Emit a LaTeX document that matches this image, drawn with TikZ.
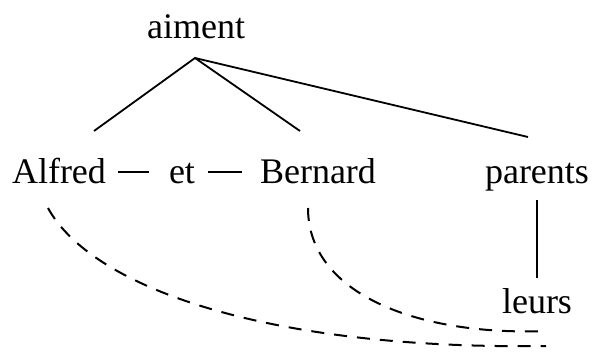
\documentclass[tikz,border=0pt]{standalone}
\usepackage{fontspec}
\setmainfont{Liberation Serif}
\begin{document}
\begin{tikzpicture}[x=1pt,y=-1pt,
  word/.style={inner sep=0pt,anchor=base,font=\fontsize{36}{40}\selectfont},
  edge/.style={line width=1.8pt},
  link/.style={line width=2pt,dash pattern=on 13pt off 10pt}]
\useasboundingbox (0,0) rectangle (592,356);
\node[word] (aiment) at (196,38) {aiment};
\node[word] (Alfred) at (59,183) {Alfred};
\node[word] (et) at (182,183) {et};
\node[word] (Bernard) at (318,183) {Bernard};
\node[word] (parents) at (537,183) {parents};
\node[word] (leurs) at (537,313) {leurs};
\coordinate (top) at (195,58);
\coordinate (a1) at (94,131);
\coordinate (b1) at (300,131);
\coordinate (p1) at (528,137);
\draw[edge] (a1) -- (top) -- (b1);
\draw[edge] (top) -- (p1);
\draw[edge] ([xshift=12pt,yshift=11pt]Alfred.base east) -- ([xshift=-20pt,yshift=11pt]et.base west);
\draw[edge] ([xshift=13pt,yshift=11pt]et.base east) -- ([xshift=-18pt,yshift=11pt]Bernard.base west);
\draw[edge] ([yshift=-17pt]parents.base) -- ([yshift=35pt]leurs.base);
\coordinate (as) at (48,208);
\coordinate (bs) at (308,208);
\coordinate (ae) at (546,346);
\coordinate (be) at (546,331);
\draw[link] (as) .. controls (90,285) and (260,350) .. (ae);
\draw[link] (bs) .. controls (308,295) and (420,336) .. (be);
\end{tikzpicture}
\end{document}
